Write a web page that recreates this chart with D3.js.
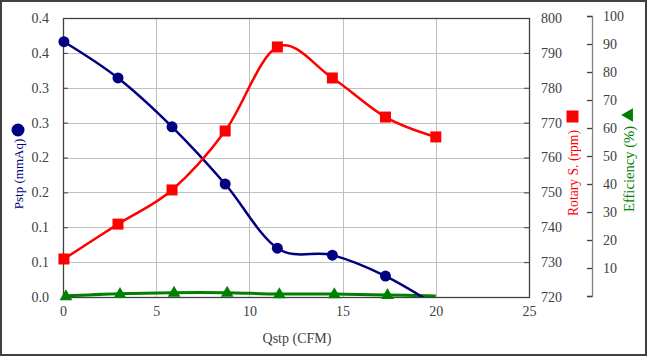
<!DOCTYPE html>
<html><head><meta charset="utf-8">
<script src="https://cdn.jsdelivr.net/npm/d3@7"></script>
<style>
html,body{margin:0;padding:0;background:#fff;}
svg{display:block;}
</style></head>
<body>
<svg id="chart" width="647" height="356"></svg>
<script>
const qstp = [0.05, 2.95, 5.85, 8.7, 11.5, 14.45, 17.3, 20.0];
const pstp = [0.366, 0.314, 0.244, 0.162, 0.070, 0.060, 0.030, -0.012];
const rotary = [730.9, 740.9, 750.7, 767.6, 791.7, 782.8, 771.6, 765.9];
const efficiency = [0, 0.8, 1.2, 1.2, 0.7, 0.7, 0.4, 0];
const xTicks = [0, 5, 10, 15, 20, 25];
const pTicks = [0, 0.05, 0.1, 0.15, 0.2, 0.25, 0.3, 0.35, 0.4];
const rTicks = [720, 730, 740, 750, 760, 770, 780, 790, 800];
const eTicks = [10, 20, 30, 40, 50, 60, 70, 80, 90, 100];

const FF = "'Liberation Serif', 'Times New Roman', 'Liberation Sans', sans-serif";
const svg = d3.select("#chart");
const L = 63, R = 529, T = 18, B = 297;
const x = d3.scaleLinear().domain([0, 25]).range([L, R]);
const yP = d3.scaleLinear().domain([0, 0.4]).range([B, T]);
const yR = d3.scaleLinear().domain([720, 800]).range([B, T]);
const yE = d3.scaleLinear().domain([0, 100]).range([296, 16]);

svg.append("rect").attr("x", 1).attr("y", 1).attr("width", 645).attr("height", 354)
  .attr("fill", "#fff").attr("stroke", "#404040").attr("stroke-width", 2);

const grid = svg.append("g").attr("stroke", "#c0c0c0").attr("stroke-width", 1);
pTicks.forEach(t => grid.append("line").attr("x1", L).attr("x2", R)
  .attr("y1", Math.round(yP(t)) + 0.5).attr("y2", Math.round(yP(t)) + 0.5));
xTicks.slice(1, -1).forEach(t => grid.append("line").attr("y1", T).attr("y2", B)
  .attr("x1", Math.round(x(t)) + 0.5).attr("x2", Math.round(x(t)) + 0.5));

svg.append("rect").attr("x", L + 0.5).attr("y", T + 0.5).attr("width", R - L).attr("height", B - T)
  .attr("fill", "none").attr("stroke", "#404040").attr("stroke-width", 1.3);

const fmtP = d => d3.format(".1f")(Math.round(d * 10 + 1e-9) / 10);
const fs = "14px";
const axL = svg.append("g").attr("transform", `translate(${L},0)`)
  .call(d3.axisRight(yP).tickValues(pTicks).tickSize(5).tickFormat(""));
axL.selectAll("line").attr("stroke", "#404040");
axL.select(".domain").remove();
svg.append("g").selectAll("text").data(pTicks).join("text")
  .attr("x", 49).attr("y", d => yP(d)).attr("dy", "0.35em").attr("text-anchor", "end")
  .style("font-family", FF).attr("font-size", fs).attr("fill", "#404040").text(d => fmtP(d));

const axR = svg.append("g").attr("transform", `translate(${R},0)`)
  .call(d3.axisLeft(yR).tickValues(rTicks).tickSize(5).tickFormat(""));
axR.selectAll("line").attr("stroke", "#404040");
axR.select(".domain").remove();
svg.append("g").selectAll("text").data(rTicks).join("text")
  .attr("x", 541).attr("y", d => yR(d)).attr("dy", "0.35em").attr("text-anchor", "start")
  .style("font-family", FF).attr("font-size", fs).attr("fill", "#404040").text(d => d);

const axB = svg.append("g").attr("transform", `translate(0,${B})`)
  .call(d3.axisBottom(x).tickValues(xTicks).tickSize(0).tickPadding(9).tickFormat(d3.format("d")));
axB.select(".domain").remove();
axB.selectAll("text").attr("font-size", fs).attr("fill", "#404040").style("font-family", FF);

const EX = 592;
const axE = svg.append("g").attr("transform", `translate(${EX},0)`)
  .call(d3.axisLeft(yE).tickValues([0].concat(eTicks)).tickSize(5).tickFormat(""));
axE.selectAll("line").attr("stroke", "#404040").attr("stroke-width", 1.3);
axE.select(".domain").attr("stroke", "#808080").attr("stroke-width", 1.3);
svg.append("g").selectAll("text").data(eTicks).join("text")
  .attr("x", 603).attr("y", d => yE(d)).attr("dy", "0.35em").attr("text-anchor", "start")
  .style("font-family", FF).attr("font-size", fs).attr("fill", "#404040").text(d => d);

svg.append("clipPath").attr("id", "clip").append("rect")
  .attr("x", L).attr("y", T - 10).attr("width", R - L).attr("height", B - T + 10);

const curve = d3.curveCatmullRom.alpha(0);
const lineP = d3.line().x((d, i) => x(qstp[i])).y(d => yP(d)).curve(curve);
const lineR = d3.line().x((d, i) => x(qstp[i])).y(d => yR(d)).curve(curve);
const lineE = d3.line().x((d, i) => x(qstp[i])).y(d => yE(d)).curve(curve);

const plot = svg.append("g");
plot.append("path").datum(efficiency).attr("d", lineE).attr("fill", "none")
  .attr("stroke", "#008000").attr("stroke-width", 3).attr("clip-path", "url(#clip)");
plot.append("path").datum(pstp).attr("d", lineP).attr("fill", "none")
  .attr("stroke", "#000080").attr("stroke-width", 2.5).attr("clip-path", "url(#clip)");
plot.append("path").datum(rotary).attr("d", lineR).attr("fill", "none")
  .attr("stroke", "#ff0000").attr("stroke-width", 2.5);

const tri = d3.symbol().type(d3.symbolTriangle).size(70);
plot.selectAll(".mt").data(efficiency.slice(0, 7)).join("path")
  .attr("transform", (d, i) => `translate(${x(qstp[i]) + 2},${yE(d) + 0.5})`)
  .attr("d", tri).attr("fill", "#008000");
plot.selectAll(".mc").data(pstp.slice(0, 7)).join("circle")
  .attr("cx", (d, i) => x(qstp[i])).attr("cy", d => yP(d)).attr("r", 5.5).attr("fill", "#000080");
plot.selectAll(".ms").data(rotary).join("rect")
  .attr("x", (d, i) => x(qstp[i]) - 5.5).attr("y", d => yR(d) - 5.5)
  .attr("width", 11).attr("height", 11).attr("fill", "#ff0000");

svg.append("text").attr("x", 297).attr("y", 343).attr("text-anchor", "middle")
  .style("font-family", FF).attr("font-size", fs).attr("fill", "#404040").text("Qstp (CFM)");

svg.append("circle").attr("cx", 18).attr("cy", 130).attr("r", 6.5).attr("fill", "#000080");
svg.append("text").attr("transform", "translate(23,174) rotate(-90)").attr("text-anchor", "middle")
  .style("font-family", FF).attr("font-size", "13px").attr("fill", "#000080").text("Pstp (mmAq)");

svg.append("rect").attr("x", 566.5).attr("y", 110.5).attr("width", 12).attr("height", 12).attr("fill", "#ff0000");
svg.append("text").attr("transform", "translate(578,173) rotate(-90)").attr("text-anchor", "middle")
  .attr("textLength", 86).attr("lengthAdjust", "spacingAndGlyphs")
  .style("font-family", FF).attr("font-size", fs).attr("fill", "#ff0000").text("Rotary S. (rpm)");

svg.append("path").attr("transform", "translate(629,115) rotate(-90)")
  .attr("d", d3.symbol().type(d3.symbolTriangle).size(80)).attr("fill", "#008000");
svg.append("text").attr("transform", "translate(634,169) rotate(-90)").attr("text-anchor", "middle")
  .attr("textLength", 86).attr("lengthAdjust", "spacingAndGlyphs")
  .style("font-family", FF).attr("font-size", fs).attr("fill", "#008000").text("Efficiency (%)");
</script>
</body></html>
